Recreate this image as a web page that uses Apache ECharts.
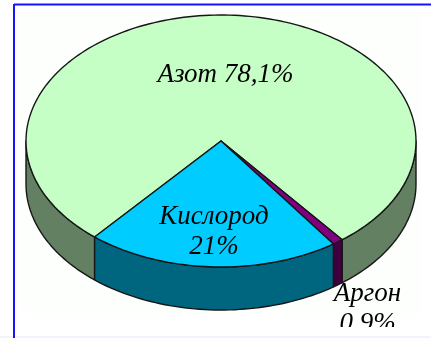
<!DOCTYPE html>
<html><head><meta charset="utf-8">
<style>html,body{margin:0;padding:0;background:#fff}#c{width:431px;height:338px}</style>
<script src="https://cdn.jsdelivr.net/npm/echarts@6/dist/echarts.min.js"></script>
</head><body><div id="c"></div>
<script>
const categories = ['Азот', 'Аргон', 'Кислород'];
const shares = [78.1, 0.9, 21];
const separators = [' ', '\n', '\n'];

const topColors = ['#C6FFC6', '#800080', '#00CCFF'];
const sideColors = ['#638063', '#400040', '#006680'];
const labelCenters = [[225.5, 75], [367.5, 309], [214, 232]];

const CX = 221, CY = 141, RX = 195, RY = 126, DEPTH = 43, START = 130.4;
const rad = d => d * Math.PI / 180;
const total = shares.reduce((a, b) => a + b, 0);
function spanOf(i) {
  let s = START;
  for (let k = 0; k < i; k++) s += shares[k] / total * 360;
  return [s, s + shares[i] / total * 360];
}
function arc(a0, a1, dy) {
  const n = Math.max(2, Math.ceil((a1 - a0) / 1.5)), pts = [];
  for (let k = 0; k <= n; k++) {
    const t = rad(a0 + (a1 - a0) * k / n);
    pts.push([CX + RX * Math.cos(t), CY + dy + RY * Math.sin(t)]);
  }
  return pts;
}
const edge = {stroke: '#161616', lineWidth: 1.4, lineJoin: 'round'};
function sideItem(params, api) {
  const i = api.value(0), [a0, a1] = spanOf(i), children = [];
  for (const w of [[0, 180], [360, 540]]) {
    const l = Math.max(a0, w[0]), h = Math.min(a1, w[1]);
    if (h <= l) continue;
    const pts = arc(l, h, 0).concat(arc(l, h, DEPTH).reverse());
    children.push({type: 'polygon', shape: {points: pts},
      style: Object.assign({fill: sideColors[i]}, edge)});
  }
  return {type: 'group', children};
}
function topItem(params, api) {
  const i = api.value(0), [a0, a1] = spanOf(i);
  return {type: 'polygon', shape: {points: [[CX, CY]].concat(arc(a0, a1, 0))},
    style: Object.assign({fill: topColors[i]}, edge)};
}
function labelItem(params, api) {
  const i = api.value(0), p = labelCenters[i];
  const v = String(shares[i]).replace('.', ',') + '%';
  return {type: 'text', style: {
    text: categories[i] + separators[i] + v, x: p[0], y: p[1],
    align: 'center', verticalAlign: 'middle', lineHeight: 30, fill: '#000',
    font: 'italic 27px "Liberation Serif"'}};
}
const rows = shares.map((v, i) => [i, v]);
const chart = echarts.init(document.getElementById('c'), null, {renderer: 'canvas'});
chart.setOption({
  animation: false,
  backgroundColor: '#fff',
  graphic: [
    {type: 'rect', z: -1, silent: true, shape: {x: 20, y: 14, width: 401, height: 300}, style: {fill: '#FCFFFC'}},
    {type: 'rect', z: 100, silent: true, shape: {x: 335, y: 327, width: 96, height: 11}, style: {fill: '#fff'}},
    {type: 'rect', z: 101, silent: true, shape: {x: 0, y: 336, width: 431, height: 2}, style: {fill: '#F3F3FF'}},
    {type: 'line', z: 101, silent: true, shape: {x1: 14, y1: 4.5, x2: 431, y2: 4.5}, style: {stroke: '#1414FF', lineWidth: 2}},
    {type: 'line', z: 101, silent: true, shape: {x1: 14, y1: 4, x2: 14, y2: 338}, style: {stroke: '#1414FF', lineWidth: 2}}
  ],
  series: [
    {type: 'custom', coordinateSystem: 'none', z: 2, silent: true, data: rows, renderItem: sideItem},
    {type: 'custom', coordinateSystem: 'none', z: 3, silent: true, data: rows, renderItem: topItem},
    {type: 'custom', coordinateSystem: 'none', z: 4, silent: true, data: rows, renderItem: labelItem}
  ]
});
</script></body></html>
